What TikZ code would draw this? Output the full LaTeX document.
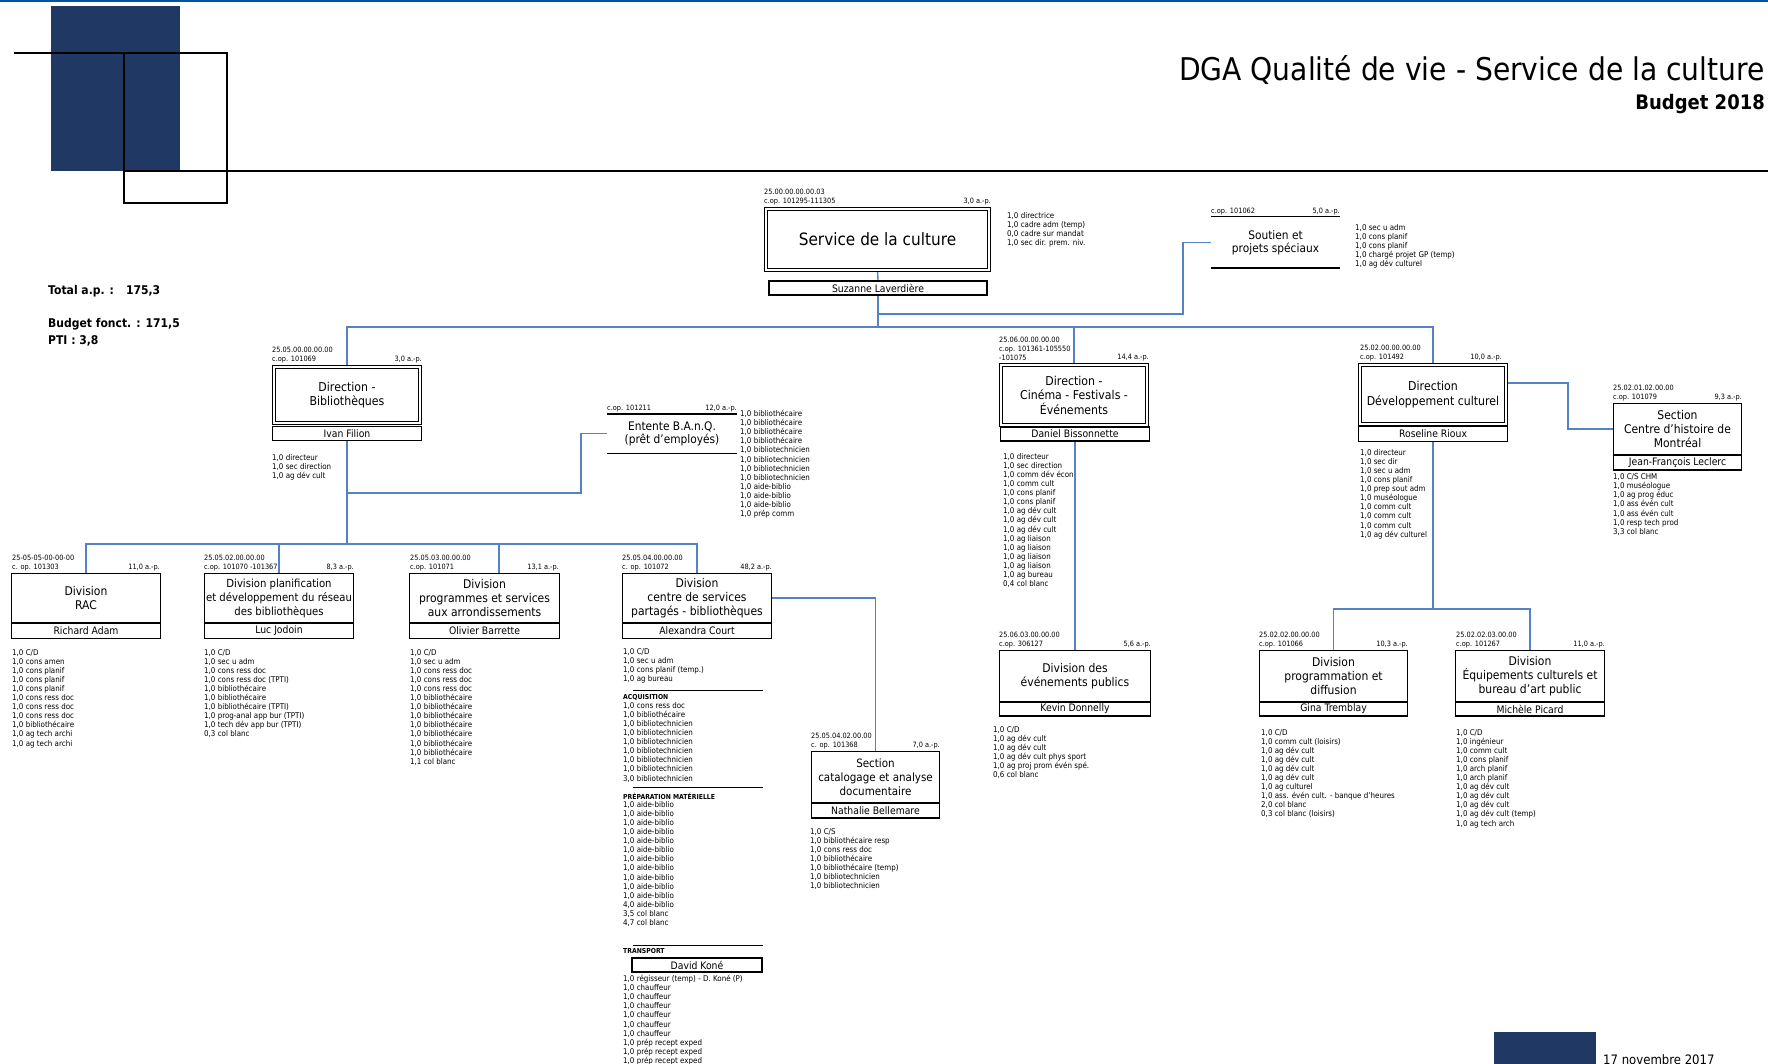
\documentclass[tikz,border=0pt]{standalone}
\usepackage{fontspec}
\setmainfont{DejaVu Sans}[FakeStretch=0.9]
\usetikzlibrary{backgrounds}
\newcommand\fs[2]{\fontsize{#1}{#2}\selectfont}
\definecolor{navy}{RGB}{31,56,100}
\definecolor{connblue}{RGB}{84,130,196}
\definecolor{topblue}{RGB}{0,84,166}
\tikzset{
 connector/.style={draw=connblue, line width=1.4},
 dbox/.style={draw, double, double distance=1.8, line width=1.1, align=center, inner sep=0, font=\fs{12.2}{14.5}},
 ubox/.style={draw, line width=1.4, align=center, inner sep=0, font=\fs{12}{14}},
 namebox/.style={draw, line width=1.4, inner sep=0, minimum height=14, font=\fs{10.3}{11}},
 code/.style={anchor=south west, align=left, inner sep=0, font=\fs{7.3}{9}},
 ap/.style={anchor=south east, inner sep=0, font=\fs{7.3}{9}},
 staff/.style={anchor=north west, align=left, inner sep=0, font=\fs{7.9}{9.1}},
 head/.style={anchor=north west, inner sep=0, font=\bfseries\fs{6.8}{8}},
 rule/.style={line width=1},
}
\begin{document}
\begin{tikzpicture}[x=1pt,y=-1pt]
\useasboundingbox (0,0) rectangle (1768,1064);
% header
\draw[topblue, line width=2.5] (0,1) -- (1768,1);
\fill[navy] (51,6) rectangle (180,171);
\draw[line width=1.3] (14,53) -- (124,53);
\draw[line width=1.3] (124,53) rectangle (227,203);
\draw[line width=1.3] (124,171) -- (1768,171);
\node[anchor=east, inner sep=0, font=\fs{31.3}{32}] (title) at (1765,70) {DGA Qualité de vie - Service de la culture};
\node[anchor=east, inner sep=0, font=\bfseries\fs{20}{30}] (budget) at (1765,104) {Budget 2018};
\node[anchor=west, inner sep=0, font=\bfseries\fs{12}{14}] (total) at (48,291) {Total a.p. :\hspace{12pt}175,3};
\node[anchor=west, inner sep=0, font=\bfseries\fs{12}{14}] (bfonct) at (48,324) {Budget fonct. : 171,5};
\node[anchor=west, inner sep=0, font=\bfseries\fs{12}{14}] (pti) at (48,341) {PTI : 3,8};
\fill[navy] (1494,1032) rectangle (1596,1064);
\node[anchor=north west, inner sep=0, font=\fs{13}{14}] (date) at (1603,1054) {17 novembre 2017};

% Service de la culture
\node[dbox, minimum width=223, minimum height=61, font=\fs{17}{20}] (svc) at (877.5,239.5) {Service de la culture};
\node[namebox, minimum width=218] (svcname) at (878,288) {Suzanne Laverdière};
\node[code] (svccode) at (764,205) {25.00.00.00.00.03\\c.op. 101295-111305};
\node[ap] (svcap) at (991,205) {3,0 a.-p.};
\node[staff] (svcstaff) at (1007,212) {1,0 directrice\\1,0 cadre adm (temp)\\0,0 cadre sur mandat\\1,0 sec dir. prem. niv.};

% Soutien
\node[inner sep=0, minimum width=129, minimum height=51, align=center, font=\fs{11.8}{12.5}] (sout) at (1275.5,242.5) {Soutien et\\projets spéciaux};
\draw[line width=1.4] (sout.north west) -- (sout.north east) (sout.south west) -- (sout.south east);
\node[code] (soutcode) at (1211,215) {c.op. 101062};
\node[ap] (soutap) at (1340,215) {5,0 a.-p.};
\node[staff] (soutstaff) at (1355,224) {1,0 sec u adm\\1,0 cons planif\\1,0 cons planif\\1,0 chargé projet GP (temp)\\1,0 ag dév culturel};

% Direction Bibliotheques
\node[dbox, minimum width=146, minimum height=56] (dbib) at (347,395) {Direction -\\Bibliothèques};
\node[namebox, minimum width=149] (dbibname) at (347,433.5) {Ivan Filion};
\node[code] (dbibcode) at (272,363) {25.05.00.00.00.00\\c.op. 101069};
\node[ap] (dbibap) at (422,363) {3,0 a.-p.};
\node[staff] (dbibstaff) at (272,454) {1,0 directeur\\1,0 sec direction\\1,0 ag dév cult};

% Entente
\node[inner sep=0, minimum width=130, minimum height=39, align=center, font=\fs{11.8}{13}] (entente) at (672,433.5) {Entente B.A.n.Q.\\(prêt d'employés)};
\draw[line width=1.4] (entente.north west) -- (entente.north east) (entente.south west) -- (entente.south east);
\node[code] (entcode) at (607,412) {c.op. 101211};
\node[ap] (entap) at (737,412) {12,0 a.-p.};
\node[staff] (entstaff) at (740,410) {1,0 bibliothécaire\\1,0 bibliothécaire\\1,0 bibliothécaire\\1,0 bibliothécaire\\1,0 bibliotechnicien\\1,0 bibliotechnicien\\1,0 bibliotechnicien\\1,0 bibliotechnicien\\1,0 aide-biblio\\1,0 aide-biblio\\1,0 aide-biblio\\1,0 prép comm};

% Divisions bibliotheques
\node[ubox, minimum width=149, minimum height=49] (rac) at (86,598) {Division\\RAC};
\node[namebox, minimum width=149, minimum height=15] (racname) at (86,631) {Richard Adam};
\node[code] (raccode) at (12,571) {25-05-05-00-00-00\\c. op. 101303};
\node[ap] (racap) at (160,571) {11,0 a.-p.};
\node[staff] (racstaff) at (12,649) {1,0 C/D\\1,0 cons amen\\1,0 cons planif\\1,0 cons planif\\1,0 cons planif\\1,0 cons ress doc\\1,0 cons ress doc\\1,0 cons ress doc\\1,0 bibliothécaire\\1,0 ag tech archi\\1,0 ag tech archi};

\node[ubox, minimum width=149, minimum height=49, font=\fs{11.2}{14}] (plan) at (279,598) {Division planification\\et développement du réseau\\des bibliothèques};
\node[namebox, minimum width=149, minimum height=15] (planname) at (279,631) {Luc Jodoin};
\node[code] (plancode) at (204,571) {25.05.02.00.00.00\\c.op. 101070 -101367};
\node[ap] (planap) at (354,571) {8,3 a.-p.};
\node[staff] (planstaff) at (204,649) {1,0 C/D\\1,0 sec u adm\\1,0 cons ress doc\\1,0 cons ress doc (TPTI)\\1,0 bibliothécaire\\1,0 bibliothécaire\\1,0 bibliothécaire (TPTI)\\1,0 prog-anal app bur (TPTI)\\1,0 tech dév app bur (TPTI)\\0,3 col blanc};

\node[ubox, minimum width=150, minimum height=49] (prog) at (484.5,598) {Division\\programmes et services\\aux arrondissements};
\node[namebox, minimum width=150, minimum height=15] (progname) at (484.5,631) {Olivier Barrette};
\node[code] (progcode) at (410,571) {25.05.03.00.00.00\\c.op. 101071};
\node[ap] (progap) at (559,571) {13,1 a.-p.};
\node[staff] (progstaff) at (410,649) {1,0 C/D\\1,0 sec u adm\\1,0 cons ress doc\\1,0 cons ress doc\\1,0 cons ress doc\\1,0 bibliothécaire\\1,0 bibliothécaire\\1,0 bibliothécaire\\1,0 bibliothécaire\\1,0 bibliothécaire\\1,0 bibliothécaire\\1,0 bibliothécaire\\1,1 col blanc};

\node[ubox, minimum width=149, minimum height=49] (csp) at (697,598) {Division\\centre de services\\partagés - bibliothèques};
\node[namebox, minimum width=149, minimum height=15] (cspname) at (697,631) {Alexandra Court};
\node[code] (cspcode) at (622,571) {25.05.04.00.00.00\\c. op. 101072};
\node[ap] (cspap) at (772,571) {48,2 a.-p.};
\node[staff] (cspstaff) at (623,648) {1,0 C/D\\1,0 sec u adm\\1,0 cons planif (temp.)\\1,0 ag bureau};
\draw[rule] (633,690) -- (763,690);
\node[head] (acqhead) at (623,694) {ACQUISITION};
\node[staff] (acqstaff) at (623,702) {1,0 cons ress doc\\1,0 bibliothécaire\\1,0 bibliotechnicien\\1,0 bibliotechnicien\\1,0 bibliotechnicien\\1,0 bibliotechnicien\\1,0 bibliotechnicien\\1,0 bibliotechnicien\\3,0 bibliotechnicien};
\draw[rule] (633,787) -- (763,787);
\node[head] (prephead) at (623,793) {PRÉPARATION MATÉRIELLE};
\node[staff] (prepstaff) at (623,801) {1,0 aide-biblio\\1,0 aide-biblio\\1,0 aide-biblio\\1,0 aide-biblio\\1,0 aide-biblio\\1,0 aide-biblio\\1,0 aide-biblio\\1,0 aide-biblio\\1,0 aide-biblio\\1,0 aide-biblio\\1,0 aide-biblio\\4,0 aide-biblio\\3,5 col blanc\\4,7 col blanc};
\draw[rule] (633,945) -- (763,945);
\node[head] (transhead) at (623,948) {TRANSPORT};
\node[namebox, minimum width=130] (kone) at (697,965) {David Koné};
\node[staff] (transstaff) at (623,975) {1,0 régisseur (temp) - D. Koné (P)\\1,0 chauffeur\\1,0 chauffeur\\1,0 chauffeur\\1,0 chauffeur\\1,0 chauffeur\\1,0 chauffeur\\1,0 prép recept exped\\1,0 prép recept exped\\1,0 prép recept exped};

% Section catalogage
\node[ubox, minimum width=128, minimum height=51, font=\fs{11.5}{14}] (cat) at (875.5,777) {Section\\catalogage et analyse\\documentaire};
\node[namebox, minimum width=128, minimum height=15] (catname) at (875.5,810.5) {Nathalie Bellemare};
\node[code] (catcode) at (811,749) {25.05.04.02.00.00\\c. op. 101368};
\node[ap] (catap) at (940,749) {7,0 a.-p.};
\node[staff] (catstaff) at (810,828) {1,0 C/S\\1,0 bibliothécaire resp\\1,0 cons ress doc\\1,0 bibliothécaire\\1,0 bibliothécaire (temp)\\1,0 bibliotechnicien\\1,0 bibliotechnicien};

% Cinema
\node[dbox, minimum width=146, minimum height=60] (dcin) at (1074,395) {Direction -\\Cinéma - Festivals -\\Événements};
\node[namebox, minimum width=149] (dcinname) at (1075,434) {Daniel Bissonnette};
\node[code] (dcincode) at (999,361) {25.06.00.00.00.00\\c.op. 101361-105550\\-101075};
\node[ap] (dcinap) at (1149,361) {14,4 a.-p.};
\node[staff] (dcinstaff) at (1003,453) {1,0 directeur\\1,0 sec direction\\1,0 comm dév écon\\1,0 comm cult\\1,0 cons planif\\1,0 cons planif\\1,0 ag dév cult\\1,0 ag dév cult\\1,0 ag dév cult\\1,0 ag liaison\\1,0 ag liaison\\1,0 ag liaison\\1,0 ag liaison\\1,0 ag bureau\\0,4 col blanc};

\node[ubox, minimum width=151, minimum height=51] (evt) at (1075,676) {Division des\\événements publics};
\node[namebox, minimum width=151] (evtname) at (1075,709) {Kevin Donnelly};
\node[code] (evtcode) at (999,648) {25.06.03.00.00.00\\c.op. 306127};
\node[ap] (evtap) at (1151,648) {5,6 a.-p.};
\node[staff] (evtstaff) at (993,726) {1,0 C/D\\1,0 ag dév cult\\1,0 ag dév cult\\1,0 ag dév cult phys sport\\1,0 ag proj prom évén spé.\\0,6 col blanc};

% Developpement culturel
\node[dbox, minimum width=146, minimum height=59] (ddc) at (1433,394.5) {Direction\\Développement culturel};
\node[namebox, minimum width=149, minimum height=15] (ddcname) at (1433,434) {Roseline Rioux};
\node[code] (ddccode) at (1360,361) {25.02.00.00.00.00\\c.op. 101492};
\node[ap] (ddcap) at (1502,361) {10,0 a.-p.};
\node[staff] (ddcstaff) at (1360,449) {1,0 directeur\\1,0 sec dir\\1,0 sec u adm\\1,0 cons planif\\1,0 prep sout adm\\1,0 muséologue\\1,0 comm cult\\1,0 comm cult\\1,0 comm cult\\1,0 ag dév culturel};

\node[ubox, minimum width=128, minimum height=51] (chm) at (1677.5,429) {Section\\Centre d'histoire de\\Montréal};
\node[namebox, minimum width=128, minimum height=15] (chmname) at (1677.5,462.5) {Jean-François Leclerc};
\node[code] (chmcode) at (1613,401) {25.02.01.02.00.00\\c.op. 101079};
\node[ap] (chmap) at (1742,401) {9,3 a.-p.};
\node[staff, font=\fs{7.9}{9.3}] (chmstaff) at (1613,473) {1,0 C/S CHM\\1,0 muséologue\\1,0 ag prog éduc\\1,0 ass évén cult\\1,0 ass évén cult\\1,0 resp tech prod\\3,3 col blanc};

\node[ubox, minimum width=148, minimum height=51] (prg) at (1333.5,676) {Division\\programmation et\\diffusion};
\node[namebox, minimum width=148] (prgname) at (1333.5,709) {Gina Tremblay};
\node[code] (prgcode) at (1259,648) {25.02.02.00.00.00\\c.op. 101066};
\node[ap] (prgap) at (1408,648) {10,3 a.-p.};
\node[staff] (prgstaff) at (1261,729) {1,0 C/D\\1,0 comm cult (loisirs)\\1,0 ag dév cult\\1,0 ag dév cult\\1,0 ag dév cult\\1,0 ag dév cult\\1,0 ag culturel\\1,0 ass. évén cult. - banque d'heures\\2,0 col blanc\\0,3 col blanc (loisirs)};

\node[ubox, minimum width=149, minimum height=51] (equ) at (1530,676) {Division\\Équipements culturels et\\bureau d'art public};
\node[namebox, minimum width=149] (equname) at (1530,709) {Michèle Picard};
\node[code] (equcode) at (1456,648) {25.02.02.03.00.00\\c.op. 101267};
\node[ap] (equap) at (1605,648) {11,0 a.-p.};
\node[staff] (equstaff) at (1456,729) {1,0 C/D\\1,0 ingénieur\\1,0 comm cult\\1,0 cons planif\\1,0 arch planif\\1,0 arch planif\\1,0 ag dév cult\\1,0 ag dév cult\\1,0 ag dév cult\\1,0 ag dév cult (temp)\\1,0 ag tech arch};

% connectors
\begin{pgfonlayer}{background}
\fill[white] (0,0) rectangle (1768,1064);
\coordinate (bar) at (878,327);
\coordinate (sj) at (1183,314);
\coordinate (dbar) at (347,544);
\coordinate (ej) at (581,493);
\coordinate (pj) at (499,544);
\coordinate (cj) at (1568,383);
\coordinate (dj) at (1433,609);
\draw[connector] (svc.south) -- (svcname.north);
\draw[connector] (svcname.south) -- (bar);
\draw[connector] (sout.west) -| (sj) -- (sj -| svcname.south);
\draw[connector] (dbib.north) |- (bar) -| (ddc.north);
\draw[connector] (dcin.north) -- (dcin.north |- bar);
\draw[connector] (dbibname.south) -- (dbar);
\draw[connector] (entente.west) -| (ej) -- (ej -| dbibname.south);
\draw[connector] (rac.north) |- (dbar) -| (csp.north);
\draw[connector] (plan.north) -- (plan.north |- dbar);
\draw[connector] (pj) -- (pj |- prog.north);
\draw[connector] (csp.east) -| (cat.north);
\draw[connector] (dcinname.south) -- (evt.north);
\draw[connector] (ddc.east |- cj) -- (cj) |- (chm.west);
\draw[connector] (ddcname.south) -- (dj);
\draw[connector] (prg.north) |- (dj) -| (equ.north);
\end{pgfonlayer}
\end{tikzpicture}
\end{document}
